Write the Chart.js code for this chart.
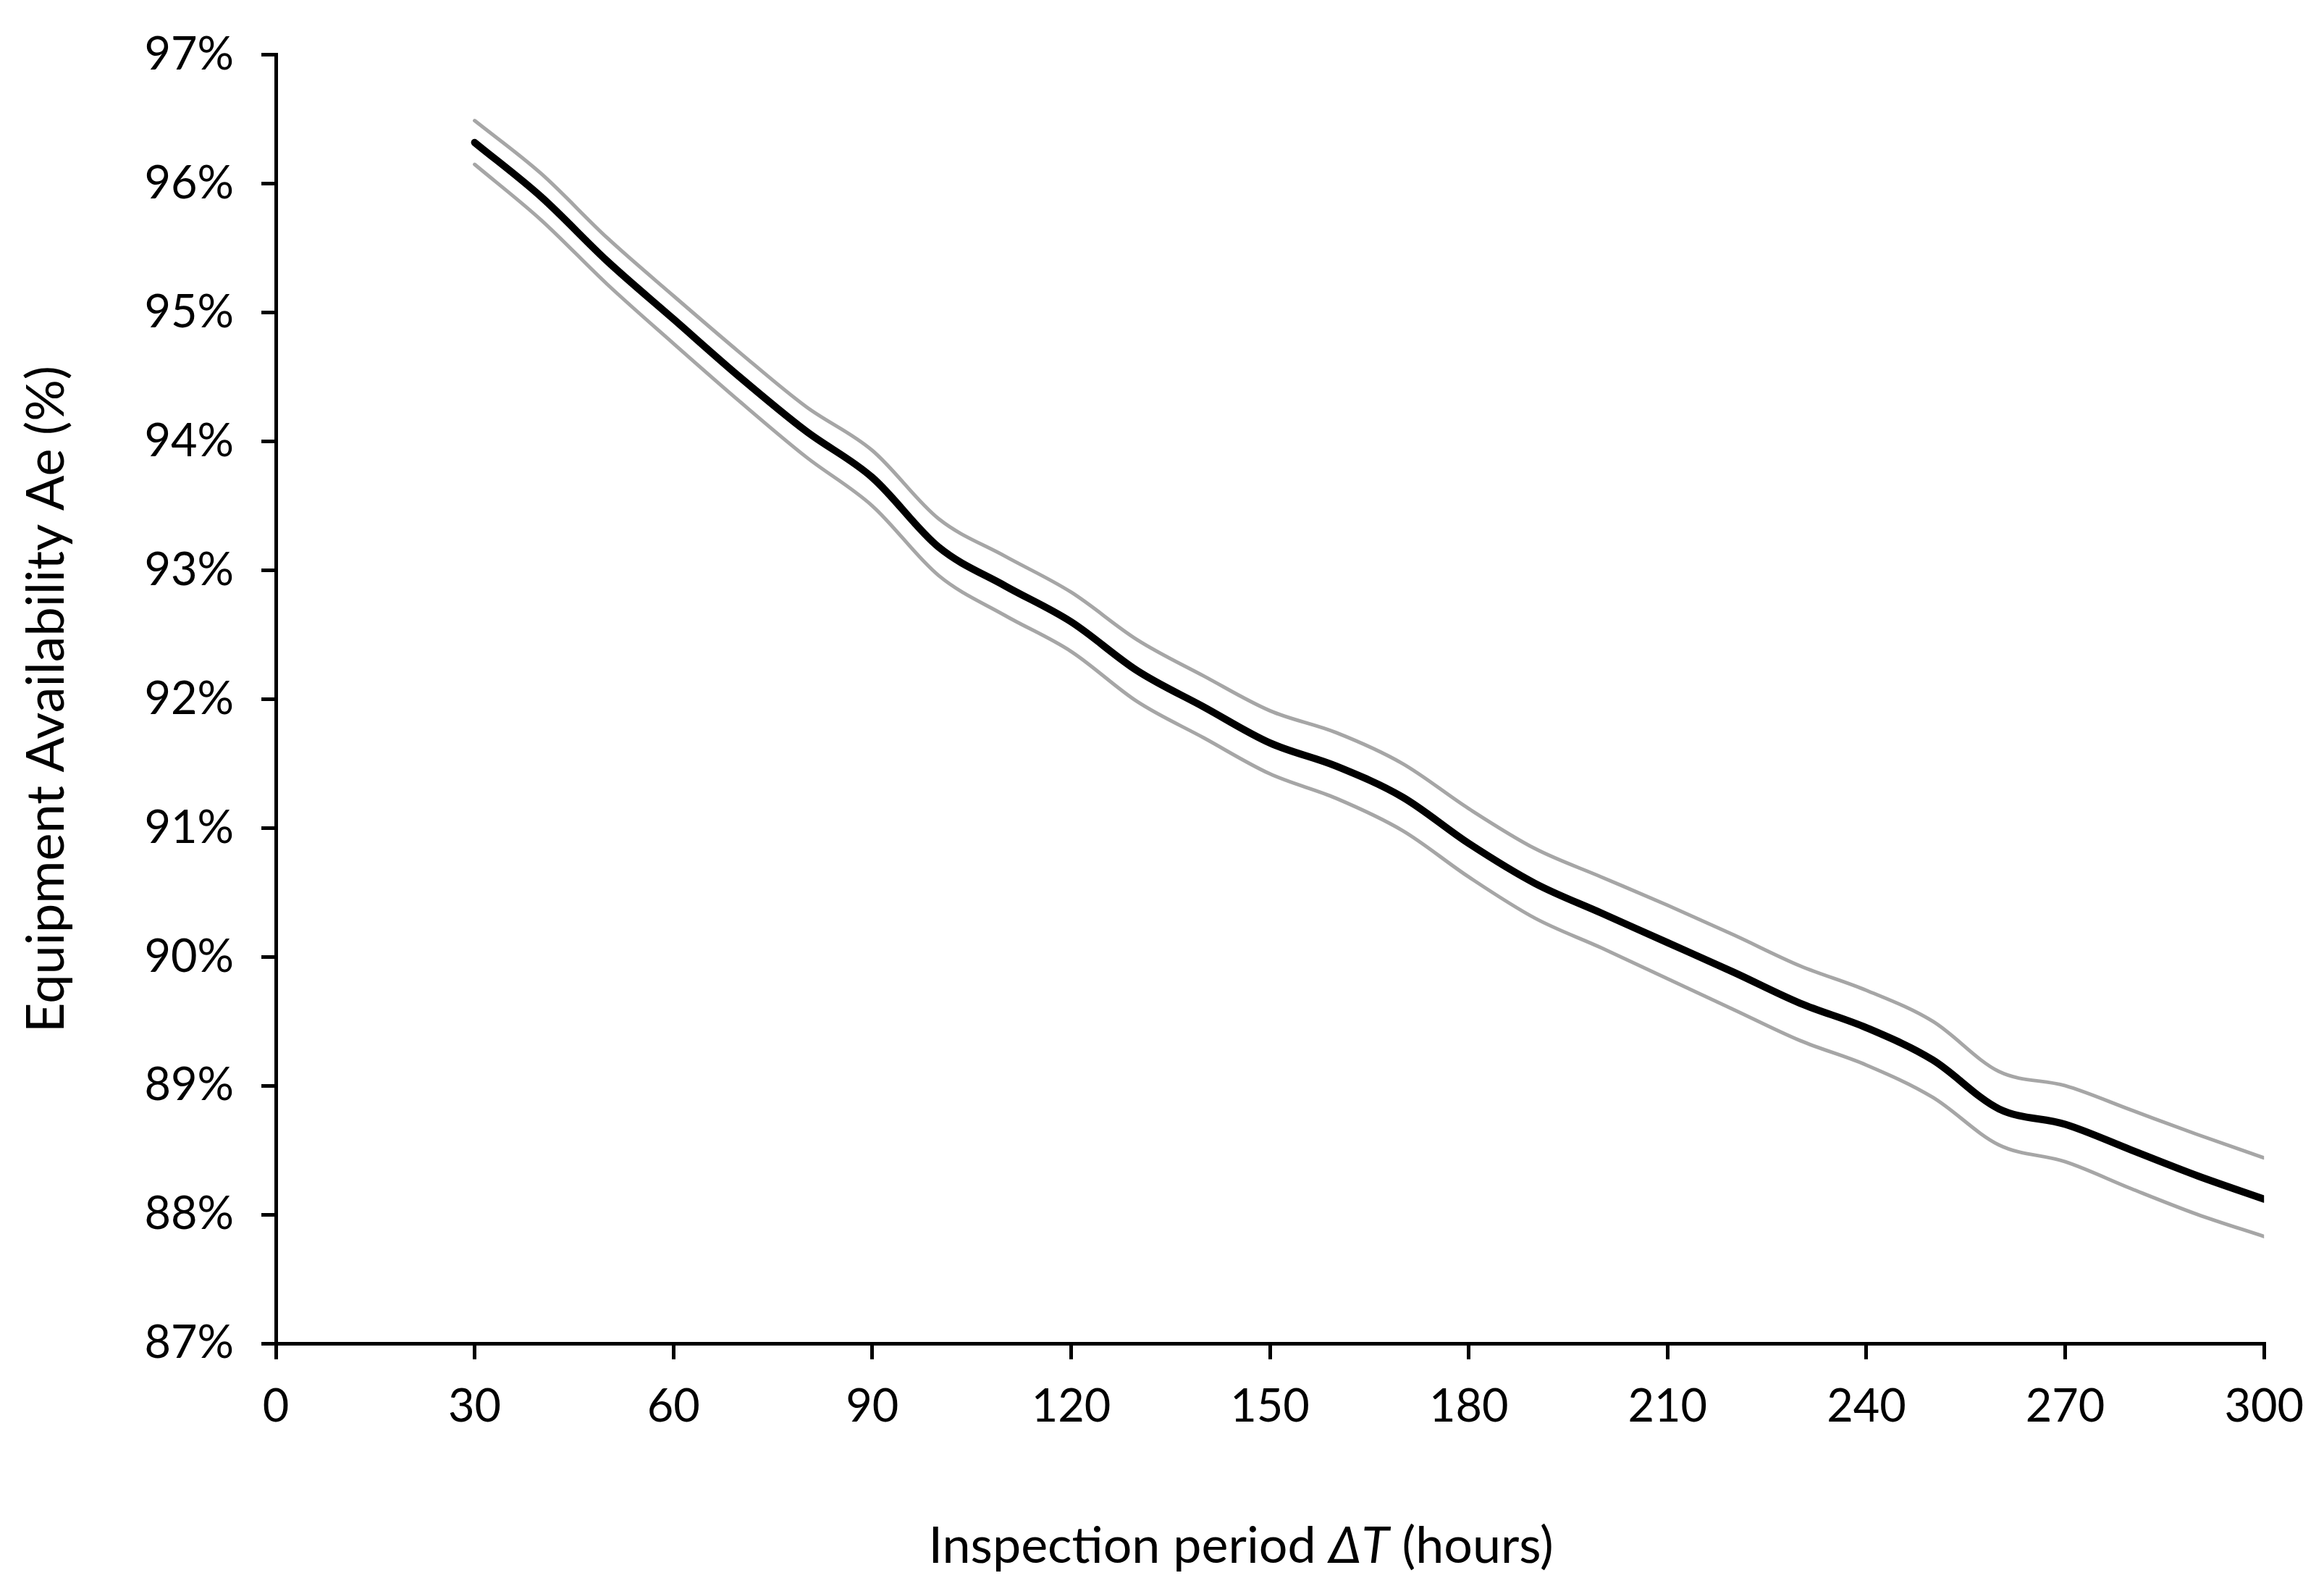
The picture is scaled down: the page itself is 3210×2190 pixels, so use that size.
<!DOCTYPE html>
<html>
<head>
<meta charset="utf-8">
<script src="https://cdn.jsdelivr.net/npm/chart.js@4.4.0/dist/chart.umd.min.js"></script>
<style>
  html, body { margin: 0; padding: 0; background: #fff; }
  #wrap { width: 3210px; height: 2190px; }
</style>
</head>
<body>
<div id="wrap"><canvas id="chart" width="3210" height="2190"></canvas></div>
<script>
// inspection period (hours)
const periods = [30, 40, 50, 60, 70, 80, 90, 100, 110, 120, 130, 140, 150, 160, 170, 180, 190, 200, 210, 220, 230, 240, 250, 260, 270, 280, 290, 300];

// equipment availability Ae (%) - mean and the two bounds
const meanAe = [96.32, 95.90, 95.40, 94.95, 94.50, 94.08, 93.72, 93.18, 92.88, 92.60, 92.22, 91.94, 91.66, 91.48, 91.24, 90.88, 90.57, 90.34, 90.11, 89.88, 89.64, 89.45, 89.20, 88.82, 88.70, 88.50, 88.30, 88.12];
const upperAe = [96.49, 96.08, 95.58, 95.13, 94.69, 94.27, 93.93, 93.40, 93.11, 92.83, 92.46, 92.18, 91.91, 91.74, 91.50, 91.15, 90.84, 90.62, 90.40, 90.17, 89.93, 89.74, 89.50, 89.11, 89.00, 88.81, 88.62, 88.44];
const lowerAe = [96.15, 95.72, 95.22, 94.76, 94.31, 93.88, 93.50, 92.96, 92.65, 92.37, 91.98, 91.70, 91.42, 91.23, 90.98, 90.62, 90.30, 90.07, 89.83, 89.59, 89.35, 89.16, 88.91, 88.54, 88.41, 88.20, 88.00, 87.83];

const xTicks = [0, 30, 60, 90, 120, 150, 180, 210, 240, 270, 300];
const yTicks = [87, 88, 89, 90, 91, 92, 93, 94, 95, 96, 97];

const FONT = 'Lato, "Open Sans", sans-serif';

const toPoints = (ys) => periods.map((x, i) => ({ x: x, y: ys[i] }));

// x axis title has an italic "ΔT" in the middle, so draw it by hand
const xTitlePlugin = {
  id: 'xTitle',
  afterDraw(chart) {
    const ctx = chart.ctx;
    const area = chart.chartArea;
    const parts = [
      { t: 'Inspection period ', f: '70px ' + FONT },
      { t: '\u0394T', f: 'italic 70px ' + FONT },
      { t: ' (hours)', f: '70px ' + FONT }
    ];
    ctx.save();
    let total = 0;
    parts.forEach(p => { ctx.font = p.f; p.w = ctx.measureText(p.t).width; total += p.w; });
    let x = (area.left + area.right) / 2 - 40 - total / 2;
    const y = area.bottom + 280;
    ctx.fillStyle = '#000';
    ctx.textBaseline = 'middle';
    parts.forEach(p => { ctx.font = p.f; ctx.fillText(p.t, x, y); x += p.w; });
    ctx.restore();
  }
};

const ctx = document.getElementById('chart').getContext('2d');
new Chart(ctx, {
  type: 'line',
  data: {
    datasets: [
      { label: 'upper', data: toPoints(upperAe), borderColor: '#a6a6a6', borderWidth: 5 },
      { label: 'lower', data: toPoints(lowerAe), borderColor: '#a6a6a6', borderWidth: 5 },
      { label: 'Ae', data: toPoints(meanAe), borderColor: '#000', borderWidth: 10 }
    ]
  },
  options: {
    responsive: false,
    animation: false,
    layout: { padding: { top: 70, right: 78, left: 0, bottom: 0 } },
    elements: {
      point: { radius: 0 },
      line: { tension: 0.4, cubicInterpolationMode: 'monotone', borderCapStyle: 'round', fill: false }
    },
    plugins: {
      legend: { display: false },
      tooltip: { enabled: false }
    },
    scales: {
      x: {
        type: 'linear',
        min: 0,
        max: 300,
        afterBuildTicks: (s) => { s.ticks = xTicks.map(v => ({ value: v })); },
        afterFit: (s) => { s.height = 335; },
        border: { color: '#000', width: 5 },
        grid: { drawOnChartArea: false, color: '#000', lineWidth: 5, tickLength: 22 },
        ticks: { color: '#000', font: { family: FONT, size: 63 }, padding: 28, maxRotation: 0 }
      },
      y: {
        min: 87,
        max: 97,
        afterBuildTicks: (s) => { s.ticks = yTicks.map(v => ({ value: v })); },
        afterFit: (s) => { s.width = 381; },
        border: { color: '#000', width: 5 },
        grid: { drawOnChartArea: false, color: '#000', lineWidth: 5, tickLength: 20 },
        ticks: { color: '#000', font: { family: FONT, size: 63 }, padding: 38, callback: (v) => v + '%' },
        title: { display: true, text: 'Equipment Availability Ae (%)', color: '#000', font: { family: FONT, size: 72 }, padding: { top: 22, bottom: 0 } }
      }
    }
  },
  plugins: [xTitlePlugin]
});
</script>
</body>
</html>
